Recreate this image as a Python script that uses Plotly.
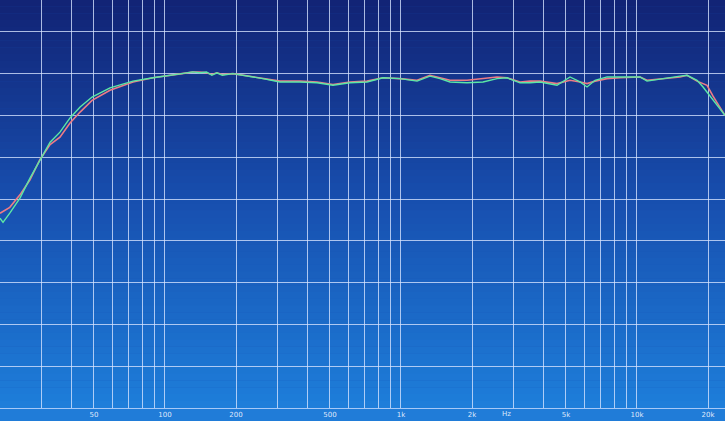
import plotly.graph_objects as go
import numpy as np

# ---- data ----
freq_green = [20, 20.6, 22.0, 24.3, 26.8, 29.5, 32.6, 35.9, 39.6, 43.7, 49.1, 58.5, 73.2, 89.0, 102,
              118, 131, 140, 150, 158, 166, 175, 194, 229, 260, 307, 373, 441, 515, 608, 718, 839,
              991, 1170, 1327, 1464, 1614, 1905, 2226, 2552, 2814, 3194, 3522, 3882, 4584, 5204,
              5736, 6142, 6640, 7466, 8476, 10302, 11028, 12158, 15220, 16294, 17966, 19048,
              21000, 23600]
db_green = [62.7, 62.2, 63.3, 65.1, 67.5, 69.7, 71.8, 73.0, 74.7, 76.0, 77.2, 78.3, 79.1, 79.5, 79.7,
            80.0, 80.2, 80.1, 80.2, 79.8, 80.1, 79.8, 80.0, 79.7, 79.4, 79.0, 79.0, 78.9, 78.6, 78.9,
            79.0, 79.5, 79.4, 79.1, 79.7, 79.4, 79.0, 78.9, 79.0, 79.4, 79.5, 78.9, 78.9, 79.0,
            78.6, 79.6, 79.0, 78.4, 79.2, 79.6, 79.6, 79.6, 79.1, 79.3, 79.7, 79.8, 79.2, 78.4,
            76.8, 75.0]

freq_red = [20, 22.0, 24.3, 26.8, 29.5, 32.6, 35.9, 39.6, 43.7, 49.1, 58.5, 73.2, 89.0, 102,
            118, 131, 140, 150, 158, 166, 175, 194, 229, 260, 307, 373, 441, 515, 608, 718, 839,
            991, 1170, 1327, 1464, 1614, 1905, 2226, 2552, 2814, 3194, 3522, 3882, 4584, 5204,
            5736, 6142, 6640, 7466, 8476, 10302, 11028, 12158, 15220, 16294, 17966, 19808,
            21000, 23600]
db_red = [63.3, 64.0, 65.5, 67.3, 69.7, 71.5, 72.4, 74.1, 75.4, 76.8, 78.0, 79.0, 79.5, 79.7,
          80.0, 80.2, 80.2, 80.1, 79.9, 80.1, 79.9, 80.0, 79.7, 79.4, 79.1, 79.1, 79.0, 78.7, 79.0,
          79.1, 79.5, 79.4, 79.2, 79.8, 79.5, 79.2, 79.2, 79.4, 79.6, 79.5, 79.0, 79.1, 79.1,
          78.8, 79.2, 79.0, 78.8, 79.1, 79.4, 79.5, 79.6, 79.2, 79.3, 79.6, 79.8, 79.1, 78.6,
          77.3, 75.0]

grid_freqs = [20, 30, 40, 50, 60, 70, 80, 90,
              100, 200, 300, 400, 500, 600, 700, 800, 900,
              1000, 2000, 3000, 4000, 5000, 6000, 7000, 8000, 9000,
              10000, 20000]
grid_labels = {20: "20", 50: "50", 100: "100", 200: "200", 500: "500",
               1000: "1k", 2000: "2k", 5000: "5k", 10000: "10k", 20000: "20k"}
tick_text = [grid_labels.get(f, "") for f in grid_freqs]

fig = go.Figure()
fig.add_trace(go.Scatter(x=freq_red, y=db_red, mode="lines",
                         line=dict(color="#ec7c86", width=1.6), showlegend=False))
fig.add_trace(go.Scatter(x=freq_green, y=db_green, mode="lines",
                         line=dict(color="#5ce8a6", width=1.4), showlegend=False))

# background gradient (dark navy top -> brighter blue bottom)
top = np.array([18, 36, 118])
mid = np.array([24, 80, 176])
bot = np.array([30, 126, 218])
shapes = []
n = 60
for i in range(n):
    t = i / (n - 1)
    if t < 0.5:
        c = top + (mid - top) * (t / 0.5)
    else:
        c = mid + (bot - mid) * ((t - 0.5) / 0.5)
    y1 = 1 - i / n
    y0 = 1 - (i + 1) / n
    shapes.append(dict(type="rect", xref="paper", yref="paper", x0=0, x1=1, y0=y0, y1=y1 + 0.001,
                       fillcolor="rgb(%d,%d,%d)" % tuple(c.astype(int)), line=dict(width=0),
                       layer="below"))

fig.update_layout(
    width=725, height=421,
    margin=dict(l=0, r=0, t=0, b=13),
    template="none",
    paper_bgcolor="rgb(32,124,216)",
    plot_bgcolor="rgb(24,80,176)",
    shapes=shapes,
    showlegend=False,
    xaxis=dict(type="log", range=[np.log10(20), np.log10(23600)],
               tickvals=grid_freqs, ticktext=tick_text,
               showgrid=True, gridcolor="rgba(215,228,255,0.78)", gridwidth=1,
               zeroline=False, showline=True, linecolor="rgba(200,220,255,0.8)", linewidth=1,
               ticks="", tickfont=dict(family="DejaVu Sans", size=7, color="rgba(235,242,255,0.95)"),
               automargin=False, fixedrange=True),
    yaxis=dict(range=[40, 40 + 408 * 5 / 41.8], dtick=5, tick0=40,
               showgrid=True, gridcolor="rgba(215,228,255,0.78)", gridwidth=1,
               zeroline=False, showticklabels=False, ticks="", showline=False,
               automargin=False, fixedrange=True),
    annotations=[dict(text="Hz", x=np.log10(2800), xref="x", y=-0.0147, yref="paper",
                      showarrow=False, yanchor="middle",
                      font=dict(family="DejaVu Sans", size=7, color="rgba(235,242,255,0.95)"))],
)

fig.write_html("out.html", config={"displayModeBar": False},
               post_script="document.body.style.margin='0';document.body.style.overflow='hidden';")
